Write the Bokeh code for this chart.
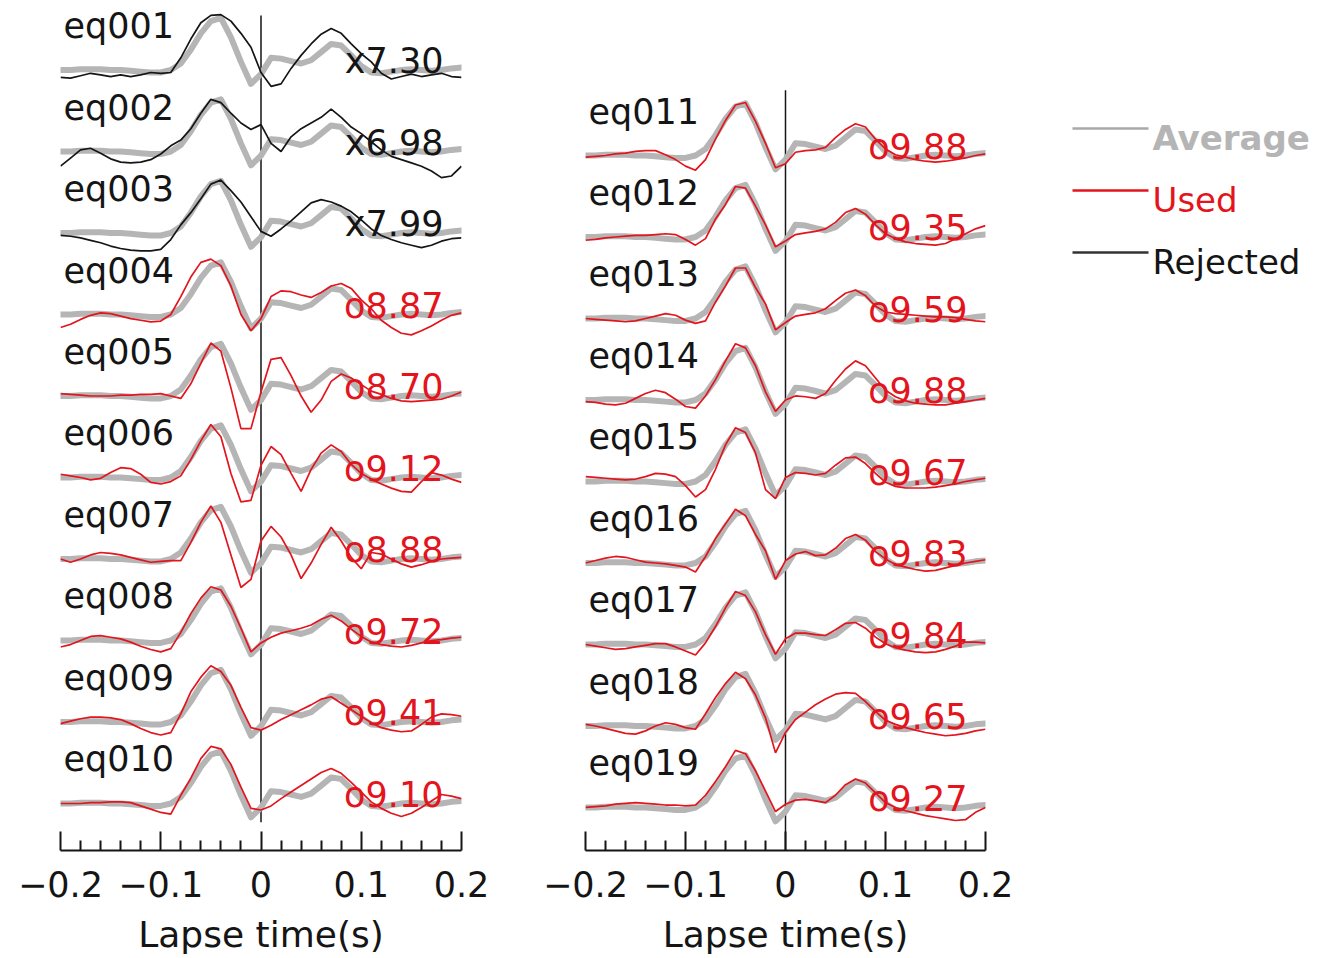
from bokeh.plotting import figure
from bokeh.layouts import row
from bokeh.models import Range1d, FixedTicker, CustomJSTickFormatter, ColumnDataSource
from bokeh.core.properties import value
from bokeh.embed import file_html
from bokeh.resources import INLINE

# ---------------- data ----------------
time = [-0.20, -0.19, -0.18, -0.17, -0.16, -0.15, -0.14, -0.13, -0.12, -0.11,
        -0.10, -0.09, -0.08, -0.07, -0.06, -0.05, -0.04, -0.03, -0.02, -0.01,
        0.00, 0.01, 0.02, 0.03, 0.04, 0.05, 0.06, 0.07, 0.08, 0.09,
        0.10, 0.11, 0.12, 0.13, 0.14, 0.15, 0.16, 0.17, 0.18, 0.19, 0.20]

average = [0.00, 0.00, 0.01, 0.01, 0.01, 0.00, 0.00, -0.01, -0.02, -0.03,
           -0.03, 0.00, 0.08, 0.25, 0.45, 0.60, 0.64, 0.40, 0.10, -0.17,
           -0.05, 0.15, 0.14, 0.11, 0.08, 0.12, 0.22, 0.32, 0.30, 0.18,
           0.05, -0.03, -0.04, -0.02, 0.00, 0.01, 0.00, -0.01, 0.00, 0.02, 0.03]

eq001 = [-0.09, -0.10, -0.07, -0.04, -0.06, -0.08, -0.06, -0.08, -0.06, -0.03,
         -0.04, -0.03, 0.15, 0.38, 0.58, 0.67, 0.68, 0.60, 0.45, 0.28,
         -0.03, -0.20, -0.17, 0.02, 0.18, 0.32, 0.44, 0.51, 0.45, 0.32,
         0.20, 0.10, -0.04, -0.11, -0.08, -0.05, -0.08, -0.06, -0.04, -0.08, -0.09]
eq002 = [-0.18, -0.08, 0.02, 0.04, -0.02, -0.09, -0.13, -0.14, -0.13, -0.10,
         -0.03, 0.07, 0.14, 0.28, 0.47, 0.64, 0.60, 0.47, 0.35, 0.27,
         0.33, 0.10, 0.00, 0.18, 0.28, 0.35, 0.42, 0.52, 0.42, 0.30,
         0.22, 0.12, 0.02, -0.06, -0.10, -0.14, -0.18, -0.24, -0.32, -0.30, -0.18]
eq003 = [-0.03, -0.04, -0.06, -0.09, -0.12, -0.16, -0.19, -0.21, -0.22, -0.22,
         -0.20, -0.08, 0.10, 0.25, 0.42, 0.60, 0.65, 0.52, 0.38, 0.20,
         0.02, -0.04, 0.05, 0.15, 0.26, 0.37, 0.41, 0.38, 0.33, 0.26,
         0.16, 0.05, -0.03, -0.08, -0.12, -0.15, -0.18, -0.15, -0.10, -0.07, -0.06]
eq004 = [-0.16, -0.12, -0.06, -0.01, 0.02, 0.01, -0.02, -0.05, -0.07, -0.09,
         -0.08, 0.00, 0.22, 0.46, 0.64, 0.68, 0.60, 0.35, 0.00, -0.20,
         -0.05, 0.22, 0.29, 0.28, 0.24, 0.21, 0.27, 0.35, 0.38, 0.32,
         0.18, 0.07, -0.07, -0.16, -0.23, -0.25, -0.20, -0.14, -0.07, -0.01, 0.02]
eq005 = [0.03, 0.02, 0.01, 0.00, 0.00, 0.00, 0.01, 0.01, 0.02, 0.02,
         0.03, 0.00, -0.03, 0.15, 0.40, 0.65, 0.55, 0.10, -0.40, -0.40,
         0.05, 0.45, 0.47, 0.25, 0.00, -0.20, -0.05, 0.18, 0.27, 0.22,
         0.14, 0.06, 0.02, -0.03, -0.06, -0.07, -0.06, -0.05, -0.04, 0.00, 0.05]
eq006 = [0.04, 0.02, 0.00, -0.03, -0.01, 0.06, 0.12, 0.11, 0.04, -0.06,
         -0.08, -0.05, 0.02, 0.22, 0.45, 0.65, 0.50, 0.05, -0.30, -0.28,
         0.15, 0.38, 0.28, 0.05, -0.17, 0.10, 0.30, 0.40, 0.32, 0.16,
         0.05, -0.02, -0.08, -0.13, -0.17, -0.18, -0.05, 0.06, 0.03, -0.02, -0.06]
eq007 = [0.00, -0.04, 0.00, 0.05, 0.08, 0.07, 0.05, 0.02, -0.01, -0.04,
         -0.03, -0.02, -0.02, 0.20, 0.45, 0.65, 0.45, 0.05, -0.35, -0.25,
         0.22, 0.40, 0.27, 0.05, -0.24, -0.05, 0.18, 0.39, 0.22, 0.02,
         -0.12, 0.08, 0.06, 0.00, -0.06, -0.10, -0.07, -0.03, 0.00, 0.01, 0.02]
eq008 = [-0.08, -0.05, 0.00, 0.05, 0.06, 0.04, 0.02, -0.02, -0.07, -0.11,
         -0.14, -0.10, 0.10, 0.33, 0.52, 0.66, 0.62, 0.42, 0.15, -0.14,
         -0.03, 0.04, 0.09, 0.12, 0.15, 0.19, 0.26, 0.31, 0.24, 0.14,
         0.05, -0.02, -0.05, -0.07, -0.08, -0.06, -0.03, 0.00, 0.01, 0.03, 0.04]
eq009 = [-0.02, 0.01, 0.04, 0.06, 0.06, 0.05, 0.03, -0.02, -0.08, -0.13,
         -0.16, -0.13, 0.10, 0.37, 0.55, 0.69, 0.62, 0.45, 0.18, -0.07,
         -0.10, -0.04, 0.03, 0.09, 0.15, 0.21, 0.28, 0.31, 0.23, 0.15,
         0.07, -0.01, -0.07, -0.10, -0.12, -0.11, -0.03, 0.06, 0.10, 0.09, 0.07]
eq010 = [0.00, 0.00, 0.00, 0.01, 0.01, 0.02, 0.02, 0.01, -0.03, -0.07,
         -0.11, -0.13, 0.10, 0.31, 0.55, 0.70, 0.67, 0.48, 0.20, -0.06,
         -0.08, -0.03, 0.06, 0.14, 0.22, 0.30, 0.38, 0.43, 0.37, 0.26,
         0.14, 0.02, -0.06, -0.12, -0.16, -0.12, -0.05, 0.03, 0.11, 0.09, 0.06]
eq011 = [-0.02, -0.01, 0.00, 0.02, 0.03, 0.05, 0.06, 0.06, 0.01, -0.05,
         -0.13, -0.18, -0.05, 0.20, 0.43, 0.62, 0.65, 0.42, 0.15, -0.15,
         -0.10, 0.04, 0.06, 0.07, 0.10, 0.22, 0.32, 0.39, 0.35, 0.20,
         0.08, 0.01, -0.02, -0.05, -0.07, -0.08, -0.07, -0.05, -0.03, 0.00, 0.02]
eq012 = [-0.04, -0.03, -0.01, 0.00, 0.01, 0.02, 0.02, 0.03, 0.04, 0.03,
         -0.03, -0.10, -0.02, 0.22, 0.40, 0.62, 0.60, 0.38, 0.15, -0.12,
         -0.05, 0.03, 0.05, 0.07, 0.10, 0.18, 0.30, 0.35, 0.28, 0.15,
         0.04, -0.02, -0.06, -0.08, -0.09, -0.10, -0.08, -0.02, 0.04, 0.10, 0.14]
eq013 = [0.00, -0.01, -0.02, -0.03, -0.04, -0.03, 0.00, 0.03, 0.06, 0.04,
         -0.02, -0.06, -0.03, 0.20, 0.40, 0.62, 0.62, 0.38, 0.18, -0.14,
         -0.05, 0.03, 0.05, 0.07, 0.12, 0.22, 0.31, 0.35, 0.28, 0.15,
         0.08, 0.06, 0.05, 0.04, 0.03, 0.02, 0.02, 0.01, -0.01, -0.03, -0.04]
eq014 = [-0.02, -0.03, -0.05, -0.06, -0.04, 0.02, 0.08, 0.12, 0.09, 0.01,
         -0.08, -0.10, 0.05, 0.25, 0.48, 0.69, 0.64, 0.42, 0.10, -0.14,
         0.00, 0.05, 0.04, 0.02, 0.08, 0.24, 0.38, 0.48, 0.42, 0.27,
         0.12, 0.04, -0.01, -0.04, -0.05, -0.06, -0.06, -0.04, -0.02, 0.00, 0.02]
eq015 = [0.06, 0.05, 0.04, 0.03, 0.02, 0.03, 0.06, 0.10, 0.09, 0.06,
         -0.05, -0.19, -0.10, 0.15, 0.45, 0.66, 0.60, 0.35, -0.10, -0.21,
         0.05, 0.11, 0.10, 0.08, 0.10, 0.20, 0.29, 0.30, 0.22, 0.10,
         -0.01, -0.06, -0.08, -0.08, -0.08, -0.07, -0.05, -0.03, 0.00, 0.02, 0.04]
eq016 = [0.00, 0.03, 0.06, 0.08, 0.07, 0.04, 0.01, 0.00, -0.01, -0.03,
         -0.05, -0.11, 0.08, 0.30, 0.48, 0.66, 0.58, 0.35, 0.15, -0.20,
         0.03, 0.11, 0.14, 0.09, 0.10, 0.18, 0.30, 0.35, 0.28, 0.14,
         0.05, -0.02, -0.05, -0.08, -0.10, -0.09, -0.06, -0.03, 0.00, 0.02, 0.04]
eq017 = [0.00, -0.02, -0.04, -0.06, -0.05, -0.03, -0.01, 0.01, 0.01, -0.03,
         -0.08, -0.13, 0.02, 0.22, 0.45, 0.65, 0.60, 0.40, 0.12, -0.12,
         0.07, 0.14, 0.14, 0.12, 0.11, 0.18, 0.26, 0.27, 0.20, 0.09,
         0.01, -0.04, -0.07, -0.09, -0.10, -0.09, -0.06, -0.02, 0.03, 0.03, 0.02]
eq018 = [0.02, 0.00, -0.03, -0.06, -0.09, -0.10, -0.06, 0.00, 0.04, 0.02,
         -0.02, -0.04, 0.15, 0.35, 0.52, 0.66, 0.58, 0.38, 0.10, -0.33,
         -0.08, 0.08, 0.17, 0.26, 0.33, 0.39, 0.41, 0.40, 0.30, 0.18,
         0.07, 0.02, -0.02, -0.05, -0.08, -0.10, -0.12, -0.11, -0.09, -0.06, -0.04]
eq019 = [0.00, 0.01, 0.02, 0.04, 0.05, 0.06, 0.05, 0.04, 0.03, 0.03,
         0.02, 0.03, 0.15, 0.32, 0.50, 0.70, 0.66, 0.45, 0.20, -0.05,
         0.04, 0.09, 0.10, 0.08, 0.06, 0.15, 0.28, 0.35, 0.30, 0.18,
         0.06, 0.00, -0.04, -0.07, -0.10, -0.12, -0.14, -0.16, -0.15, -0.06, 0.00]

left_names = ["eq001", "eq002", "eq003", "eq004", "eq005", "eq006", "eq007", "eq008", "eq009", "eq010"]
left_traces = [eq001, eq002, eq003, eq004, eq005, eq006, eq007, eq008, eq009, eq010]
left_scores = ["x7.30", "x6.98", "x7.99", "o8.87", "o8.70", "o9.12", "o8.88", "o9.72", "o9.41", "o9.10"]
left_used = [False, False, False, True, True, True, True, True, True, True]

right_names = ["eq011", "eq012", "eq013", "eq014", "eq015", "eq016", "eq017", "eq018", "eq019"]
right_traces = [eq011, eq012, eq013, eq014, eq015, eq016, eq017, eq018, eq019]
right_scores = ["o9.88", "o9.35", "o9.59", "o9.88", "o9.67", "o9.83", "o9.84", "o9.65", "o9.27"]
right_used = [True] * 9

major_ticks = [-0.2, -0.1, 0.0, 0.1, 0.2]
minor_ticks = [-0.18, -0.16, -0.14, -0.12, -0.08, -0.06, -0.04, -0.02,
               0.02, 0.04, 0.06, 0.08, 0.12, 0.14, 0.16, 0.18]

# ---------------- style ----------------
FONT = value("DejaVu Sans")
RED = "#e3141c"
BLACK = "#151515"
GRAY = "#b5b5b5"
H = 958
TOP = 8          # frame top (px)
BOTTOM = 108     # space below the frame for the axis


def panel(names, traces, scores, used, y0, y1, zero_top, zero_bottom, border_left, width):
    p = figure(width=width, height=H, x_range=Range1d(-0.2, 0.2), y_range=Range1d(y0, y1),
               output_backend="svg", toolbar_location=None, y_axis_location=None,
               min_border_left=border_left, min_border_right=40, min_border_top=TOP,
               min_border_bottom=BOTTOM)
    p.outline_line_color = None
    p.grid.visible = False
    n = len(names)
    offsets = [n - i for i in range(n)]

    # zero-time reference line
    p.line([0, 0], [zero_bottom, zero_top], line_color=BLACK, line_width=1.5)

    for off, tr, u in zip(offsets, traces, used):
        p.line(time, [off + v for v in average], line_color=GRAY, line_width=6,
               line_join="round", line_cap="round")
        p.line(time, [off + v for v in tr], line_color=RED if u else BLACK, line_width=1.7)

    src = ColumnDataSource(dict(
        x=[-0.197] * n,
        y=[o + 0.54 for o in offsets],
        name=names,
        sx=[0.182] * n,
        sy=[o + 0.11 for o in offsets],
        score=scores,
        col=[RED if u else BLACK for u in used],
    ))
    p.text(x="x", y="y", text="name", source=src, text_font=FONT, text_font_size="35px",
           text_color=BLACK, text_align="left", text_baseline="alphabetic")
    p.text(x="sx", y="sy", text="score", source=src, text_font=FONT, text_font_size="35px",
           text_color="col", text_align="right", text_baseline="alphabetic")

    ax = p.xaxis[0]
    ax.ticker = FixedTicker(ticks=major_ticks, minor_ticks=minor_ticks)
    ax.formatter = CustomJSTickFormatter(code="""
        if (Math.abs(tick) < 1e-9) { return "0"; }
        return tick.toFixed(1).replace("-", "\\u2212");
    """)
    ax.major_tick_in = 19
    ax.major_tick_out = 0
    ax.minor_tick_in = 10
    ax.minor_tick_out = 0
    ax.axis_line_width = 2
    ax.major_tick_line_width = 2
    ax.minor_tick_line_width = 2
    ax.axis_line_color = BLACK
    ax.major_tick_line_color = BLACK
    ax.minor_tick_line_color = BLACK
    ax.major_label_text_font = "DejaVu Sans"
    ax.major_label_text_font_size = "35px"
    ax.major_label_text_color = BLACK
    ax.major_label_standoff = 20
    ax.axis_label = "Lapse time(s)"
    ax.axis_label_text_font = "DejaVu Sans"
    ax.axis_label_text_font_size = "36px"
    ax.axis_label_text_font_style = "normal"
    ax.axis_label_text_color = BLACK
    ax.axis_label_standoff = 14
    return p


left = panel(left_names, left_traces, left_scores, left_used,
             0.423, 10.755, 10.67, 0.77, 60, 501)
right = panel(right_names, right_traces, right_scores, right_used,
              0.472, 10.804, 9.80, 0.472, 84, 524)

# ---------------- legend (page-pixel coordinates, frame aligned with panels) ----------------
leg_labels = ["Average", "Used", "Rejected"]
leg_colors = [GRAY, RED, BLACK]
leg_line_colors = ["#a8a8a8", RED, "#333333"]
leg_styles = ["bold", "normal", "normal"]
leg_rows = [128, 190, 252]

leg = figure(width=290, height=H, x_range=Range1d(1025, 1315), y_range=Range1d(850, TOP),
             output_backend="svg", toolbar_location=None,
             x_axis_location=None, y_axis_location=None,
             min_border_left=0, min_border_right=0, min_border_top=TOP,
             min_border_bottom=BOTTOM)
leg.outline_line_color = None
leg.grid.visible = False
for lab, c, lc, st, yy in zip(leg_labels, leg_colors, leg_line_colors, leg_styles, leg_rows):
    leg.line([1072, 1148], [yy, yy], line_color=lc, line_width=2.5)
    leg.text(x=[1152], y=[yy + 9], text=[lab], text_font=FONT, text_font_size="34px",
             text_font_style=st, text_color=c, text_align="left", text_baseline="alphabetic")

layout = row(left, right, leg)
open("out.html", "w").write(file_html(layout, INLINE))
